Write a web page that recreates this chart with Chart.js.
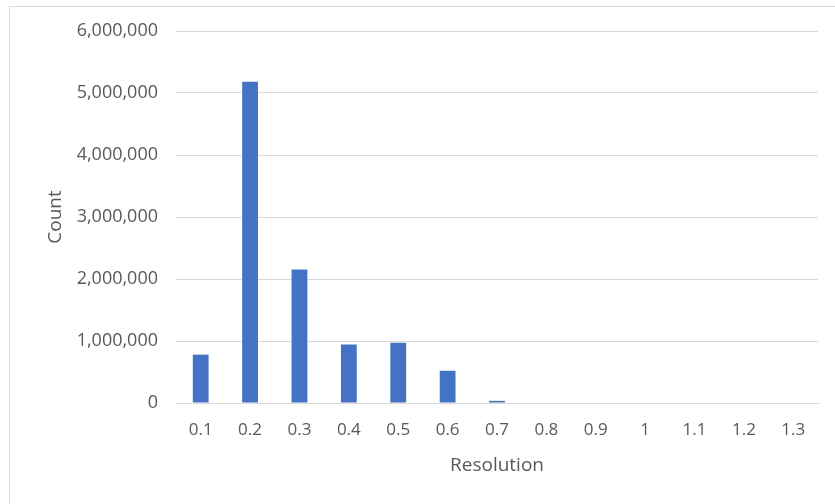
<!DOCTYPE html>
<html>
<head>
<meta charset="utf-8">
<script src="https://cdn.jsdelivr.net/npm/chart.js@4/dist/chart.umd.min.js"></script>
<style>
  html, body { margin: 0; padding: 0; background: #ffffff; overflow: hidden; }
  #wrap { position: relative; width: 835px; height: 504px; }
</style>
</head>
<body>
<div id="wrap"><canvas id="chart" width="835" height="504"></canvas></div>
<script>
// Histogram of counts per resolution bin
const categories = ['0.1', '0.2', '0.3', '0.4', '0.5', '0.6', '0.7', '0.8', '0.9', '1', '1.1', '1.2', '1.3'];
const counts = [780000, 5180000, 2155000, 945000, 970000, 520000, 35000, 0, 0, 0, 0, 0, 0];
const yTicks = [0, 1000000, 2000000, 3000000, 4000000, 5000000, 6000000];

const textColor = '#595959';
const gridColor = '#d9d9d9';
const fontFamily = "'Open Sans', 'Noto Sans', sans-serif";

// light frame around the chart
const framePlugin = {
  id: 'frame',
  beforeDraw(chart) {
    const ctx = chart.ctx;
    ctx.save();
    ctx.fillStyle = '#ffffff';
    ctx.fillRect(0, 0, chart.width, chart.height);
    ctx.strokeStyle = gridColor;
    ctx.lineWidth = 1;
    ctx.strokeRect(9.5, 6.5, 1000, 1000);
    ctx.restore();
  }
};

new Chart(document.getElementById('chart'), {
  type: 'bar',
  data: {
    labels: categories,
    datasets: [{
      label: 'Count',
      data: counts,
      backgroundColor: '#4472C4',
      borderWidth: 0,
      categoryPercentage: 1.0,
      barPercentage: 0.32
    }]
  },
  plugins: [framePlugin],
  options: {
    responsive: false,
    animation: false,
    events: [],
    layout: { padding: { left: 0, right: 17, top: 31, bottom: 0 } },
    plugins: {
      legend: { display: false },
      tooltip: { enabled: false }
    },
    scales: {
      x: {
        grid: { display: false, drawTicks: false },
        border: { display: true, color: gridColor, width: 1 },
        ticks: {
          color: textColor,
          font: { family: fontFamily, size: 17 },
          padding: 17,
          maxRotation: 0,
          autoSkip: false
        },
        title: {
          display: true,
          text: 'Resolution',
          color: textColor,
          font: { family: fontFamily, size: 19 },
          padding: { top: 0, bottom: 27 }
        },
        afterFit(scale) { scale.height = 101; }
      },
      y: {
        min: 0,
        max: 6000000,
        afterBuildTicks(scale) { scale.ticks = yTicks.map(v => ({ value: v })); },
        grid: { color: gridColor, lineWidth: 1, drawTicks: false },
        border: { display: false },
        ticks: {
          color: textColor,
          font: { family: fontFamily, size: 18 },
          padding: 18,
          callback: v => v.toLocaleString('en-US')
        },
        title: {
          display: true,
          text: 'Count',
          color: textColor,
          font: { family: fontFamily, size: 19 },
          padding: { top: 44, bottom: 44 }
        },
        afterFit(scale) { scale.width = 176; }
      }
    }
  }
});
</script>
</body>
</html>
